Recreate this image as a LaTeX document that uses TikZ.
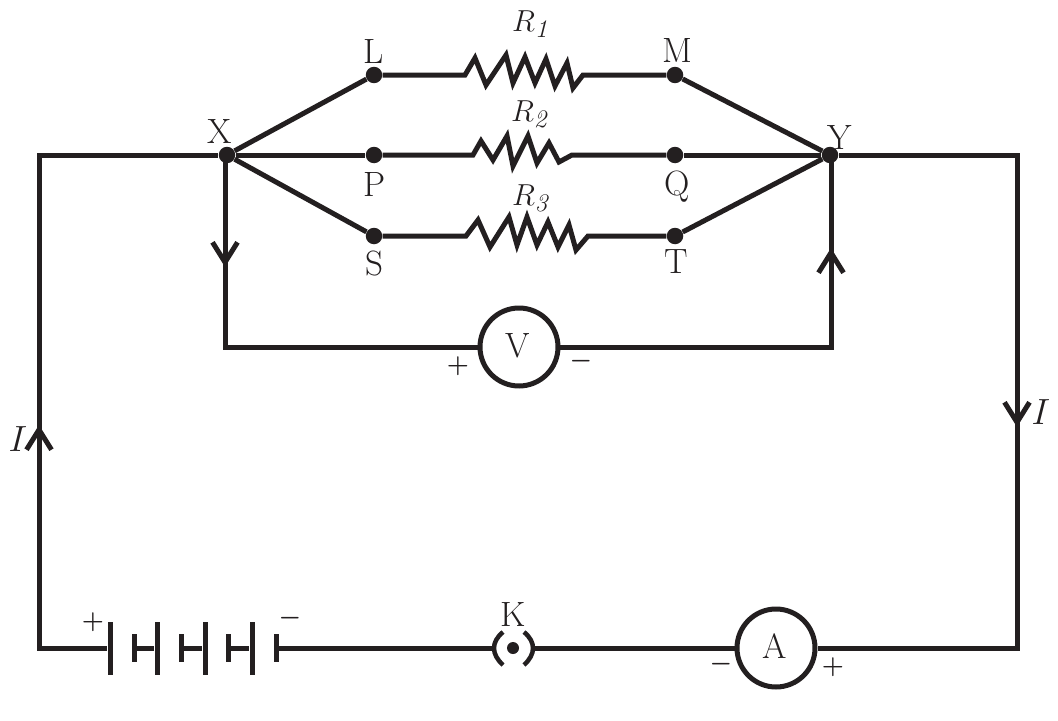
\documentclass[tikz,border=0pt]{standalone}
\usepackage{amsmath,amssymb}
\usepackage{tikz}
\usetikzlibrary{arrows.meta}
\definecolor{ink}{HTML}{231F20}
\tikzset{
  wire/.style={draw=ink,line width=0.1cm,line join=miter},
  flow/.style={wire,-{Straight Barb[length=0.4cm,width=0.5cm]}},
  junction/.style={circle,fill=ink,inner sep=0pt,minimum size=0.33cm},
  meter/.style={circle,draw=ink,fill=white,line width=0.1cm,inner sep=0pt,minimum size=1.56cm},
  longplate/.style={rectangle,fill=ink,inner sep=0pt,minimum width=0.1cm,minimum height=1.06cm},
  shortplate/.style={rectangle,fill=ink,inner sep=0pt,minimum width=0.1cm,minimum height=0.56cm},
  lab/.style={text=ink,inner sep=0pt,font=\fontsize{20}{22}\selectfont},
  rlab/.style={text=ink,inner sep=0pt,font=\fontsize{19}{21}\selectfont},
  sign/.style={text=ink,inner sep=0pt,font=\fontsize{15}{17}\selectfont\boldmath}
}
\begin{document}
\begin{tikzpicture}[x=0.02cm,y=-0.02cm]
\useasboundingbox (0,0) rectangle (1058,720);
% junctions
\node (X) at (227,155) [junction] {};
\node (Y) at (830,155) [junction] {};
\node (L) at (374,75) [junction] {};
\node (M) at (675,75) [junction] {};
\node (P) at (374,155) [junction] {};
\node (Q) at (675,155) [junction] {};
\node (S) at (374,236) [junction] {};
\node (T) at (675,236) [junction] {};
% meters
\node (Vm) at (519,347) [meter] {};
\node (Am) at (776,648) [meter] {};
% cells
\node (c1) at (110,648) [longplate] {};
\node (c2) at (134,648) [shortplate] {};
\node (c3) at (157,648) [longplate] {};
\node (c4) at (181,648) [shortplate] {};
\node (c5) at (205,648) [longplate] {};
\node (c6) at (228,648) [shortplate] {};
\node (c7) at (252,648) [longplate] {};
\node (c8) at (276,648) [shortplate] {};
% key
\node (Kd) at (513,648) [circle,fill=ink,inner sep=0pt,minimum size=0.24cm] {};
\coordinate (Kl) at (496,648);
\coordinate (Kr) at (532,648);
\draw[wire,line width=0.09cm] (503,632) .. controls (491,642) and (491,654) .. (503,665);
\draw[wire,line width=0.09cm] (524,632) .. controls (536,642) and (536,654) .. (524,665);
% corners
\coordinate (tl) at (39,155);
\coordinate (bl) at (39,648);
\coordinate (tr) at (1017,155);
\coordinate (br) at (1017,648);
\coordinate (vl) at (225,347);
\coordinate (vr) at (831,347);
\coordinate (up1) at (39,425);
\coordinate (dn1) at (1017,427);
\coordinate (dn2) at (225,267);
\coordinate (up2) at (831,248);
\coordinate (xb) at (225,155);
\coordinate (yb) at (831,155);
% outer loop
\draw[wire] (c1) -- (bl) -- (tl) -- (X);
\draw[flow] (bl) -- (up1);
\draw[wire] (Y) -- (tr) -- (br) -- (Am);
\draw[flow] (tr) -- (dn1);
\draw[wire] (c2) -- (c3);
\draw[wire] (c4) -- (c5);
\draw[wire] (c6) -- (c7);
\draw[wire] (c8) -- (Kl);
\draw[wire] (Kr) -- (Am);
% branches
\draw[wire] (X) -- (L);
\draw[wire] (X) -- (P);
\draw[wire] (X) -- (S);
\draw[wire] (M) -- (Y);
\draw[wire] (Q) -- (Y);
\draw[wire] (T) -- (Y);
\draw[wire] (L) -- (465,75) -- (475,58) -- (486,85) -- (506,55) -- (513,83) -- (525,57) -- (535,83) -- (546,59) -- (555,86) -- (567,63) -- (573,88) -- (583,75) -- (M);
\draw[wire] (P) -- (473,155) -- (481,141) -- (493,160) -- (507,136) -- (513,166) -- (528,136) -- (537,163) -- (549,143) -- (559,162) -- (572,155) -- (Q);
\draw[wire] (S) -- (466,236) -- (478,220) -- (490,247) -- (509,217) -- (517,245) -- (527,217) -- (537,245) -- (548,222) -- (558,247) -- (569,225) -- (576,250) -- (588,236) -- (T);
% voltmeter loop
\draw[wire] (xb) -- (vl) -- (Vm);
\draw[flow] (xb) -- (dn2);
\draw[wire] (yb) -- (vr) -- (Vm);
\draw[flow] (vr) -- (up2);
% labels
\node (tL) at (374,51) [lab] {L};
\node (tM) at (677,50) [lab] {M};
\node (tX) at (220,131) [lab] {X};
\node (tY) at (840,137) [lab] {Y};
\node (tP) at (375,184) [lab] {P};
\node (tQ) at (677,187) [lab] {Q};
\node (tS) at (374,263) [lab] {S};
\node (tT) at (676,262) [lab] {T};
\node (tV) at (518,346) [lab] {V};
\node (tA) at (775,646) [lab] {A};
\node (tK) at (513,614) [lab] {K};
\node (tR1) at (532,24) [rlab] {$R_{\mathit{1}}$};
\node (tR2) at (531,114) [rlab] {$R_{\mathit{2}}$};
\node (tR3) at (532,198) [rlab] {$R_{\mathit{3}}$};
\node (tI1) at (18,439) [lab] {$I$};
\node (tI2) at (1041,412) [lab] {$I$};
\node (p1) at (458,366) [sign] {$+$};
\node (m1) at (581,361) [sign] {$-$};
\node (p2) at (93,622) [sign] {$+$};
\node (m2) at (290,618) [sign] {$-$};
\node (m3) at (721,664) [sign] {$-$};
\node (p3) at (833,667) [sign] {$+$};
\end{tikzpicture}
\end{document}
